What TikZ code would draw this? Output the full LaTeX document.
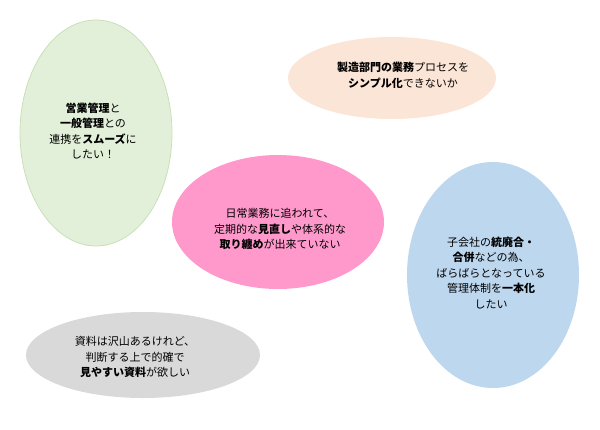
\documentclass[tikz,border=0pt]{standalone}
\usepackage{fontspec}
\setmainfont{Noto Sans CJK JP}
\definecolor{cgreen}{HTML}{E2EFD9}
\definecolor{cgreenb}{HTML}{C9E0B8}
\definecolor{cpeach}{HTML}{FBE5D6}
\definecolor{cpink}{HTML}{FF99CC}
\definecolor{cblue}{HTML}{BDD7EE}
\definecolor{cgray}{HTML}{D9D9D9}
\tikzset{
  blob/.style={ellipse, inner sep=0pt, draw=none},
  txt/.style={align=center, font=\fontsize{11}{15.5}\selectfont, text=black, inner sep=0pt}
}
\usetikzlibrary{shapes.geometric}
\begin{document}
\begin{tikzpicture}[x=1pt,y=-1pt]
\useasboundingbox (0,0) rectangle (600,429);
\node[blob, fill=cgreen, draw=cgreenb, line width=0.8pt, minimum width=152pt, minimum height=226pt] (green) at (96,133) {};
\node[blob, fill=cpeach, minimum width=208pt, minimum height=82pt] (peach) at (392,78) {};
\node[blob, fill=cpink, minimum width=212pt, minimum height=134pt] (pink) at (278,222) {};
\node[blob, fill=cblue, minimum width=172pt, minimum height=226pt] (blue) at (493,275) {};
\node[blob, fill=cgray, minimum width=234pt, minimum height=86pt] (gray) at (143,355) {};

\node[txt] (tgreen) at (93,131) {\textbf{営業管理}と\\\textbf{一般管理}との\\連携を\textbf{スムーズ}に\\したい！};
\node[txt] (tpeach) at (403,75.5) {\textbf{製造部門の業務}プロセスを\\\textbf{シンプル化}できないか};
\node[txt] (tpink) at (280,229) {日常業務に追われて、\\定期的な\textbf{見直し}や体系的な\\\textbf{取り纏め}が出来ていない};
\node[txt] (tblue) at (491,273) {子会社の\textbf{統廃合・}\\\textbf{合併}などの為、\\ばらばらとなっている\\管理体制を\textbf{一本化}\\したい};
\node[txt] (tgray) at (135,357) {資料は沢山あるけれど、\\判断する上で的確で\\\textbf{見やすい資料}が欲しい};
\end{tikzpicture}
\end{document}
